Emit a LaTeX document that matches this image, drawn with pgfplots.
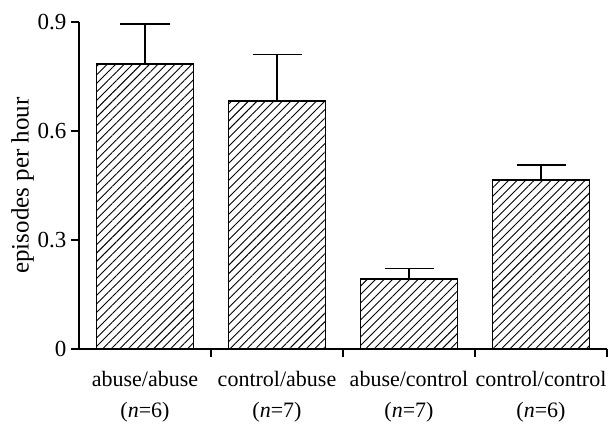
\documentclass[border=0pt]{standalone}
\usepackage{fontspec}
\setmainfont{Liberation Serif}
\usepackage{pgfplots}
\pgfplotsset{compat=1.18}
\usetikzlibrary{patterns.meta}
\begin{document}
\begin{tikzpicture}
\begin{axis}[
  name=ax,
  scale only axis, width=528pt, height=327pt,
  xmin=-0.5, xmax=3.5, ymin=0, ymax=0.9,
  axis x line=bottom, axis y line=left,
  axis line style={-, line width=1.4pt},
  ytick={0,0.3,0.6,0.9}, yticklabels={0,0.3,0.6,0.9},
  yticklabel style={font=\fontsize{23}{26}\selectfont, xshift=-1pt},
  tick style={line width=1.3pt, black},
  tick align=outside, major tick length=8pt,
  xtick={0.5,1.5,2.5,3.5}, xticklabels={},
  extra x ticks={0,1,2,3},
  extra x tick labels={{abuse/abuse\\(\textit{n}=6)},{control/abuse\\(\textit{n}=7)},{abuse/control\\(\textit{n}=7)},{control/control\\(\textit{n}=6)}},
  extra x tick style={major tick length=0pt, xticklabel style={align=center, font=\fontsize{22}{31}\selectfont, yshift=-19pt}},
  ylabel={episodes per hour},
  ylabel style={font=\fontsize{25}{29}\selectfont, yshift=-3pt},
  clip=false,
]
\addplot[ybar, bar width=97pt, draw=black, line width=1.5pt,
  pattern={Lines[angle=45, distance=6pt, line width=0.9pt]},
  error bars/.cd, y dir=plus, y explicit,
  error bar style={line width=1.4pt, black},
  error mark options={rotate=90, line width=1.4pt, black, mark size=24.5pt}]
  coordinates {
    (0,0.784) +- (0,0.110)
    (1,0.683) +- (0,0.128)
    (2,0.193) +- (0,0.029)
    (3,0.465) +- (0,0.041)
  };
\end{axis}
\pgfresetboundingbox
\path (ax.south west) ++(-79pt,-77pt) rectangle ++(610pt,426pt);
\end{tikzpicture}
\end{document}
